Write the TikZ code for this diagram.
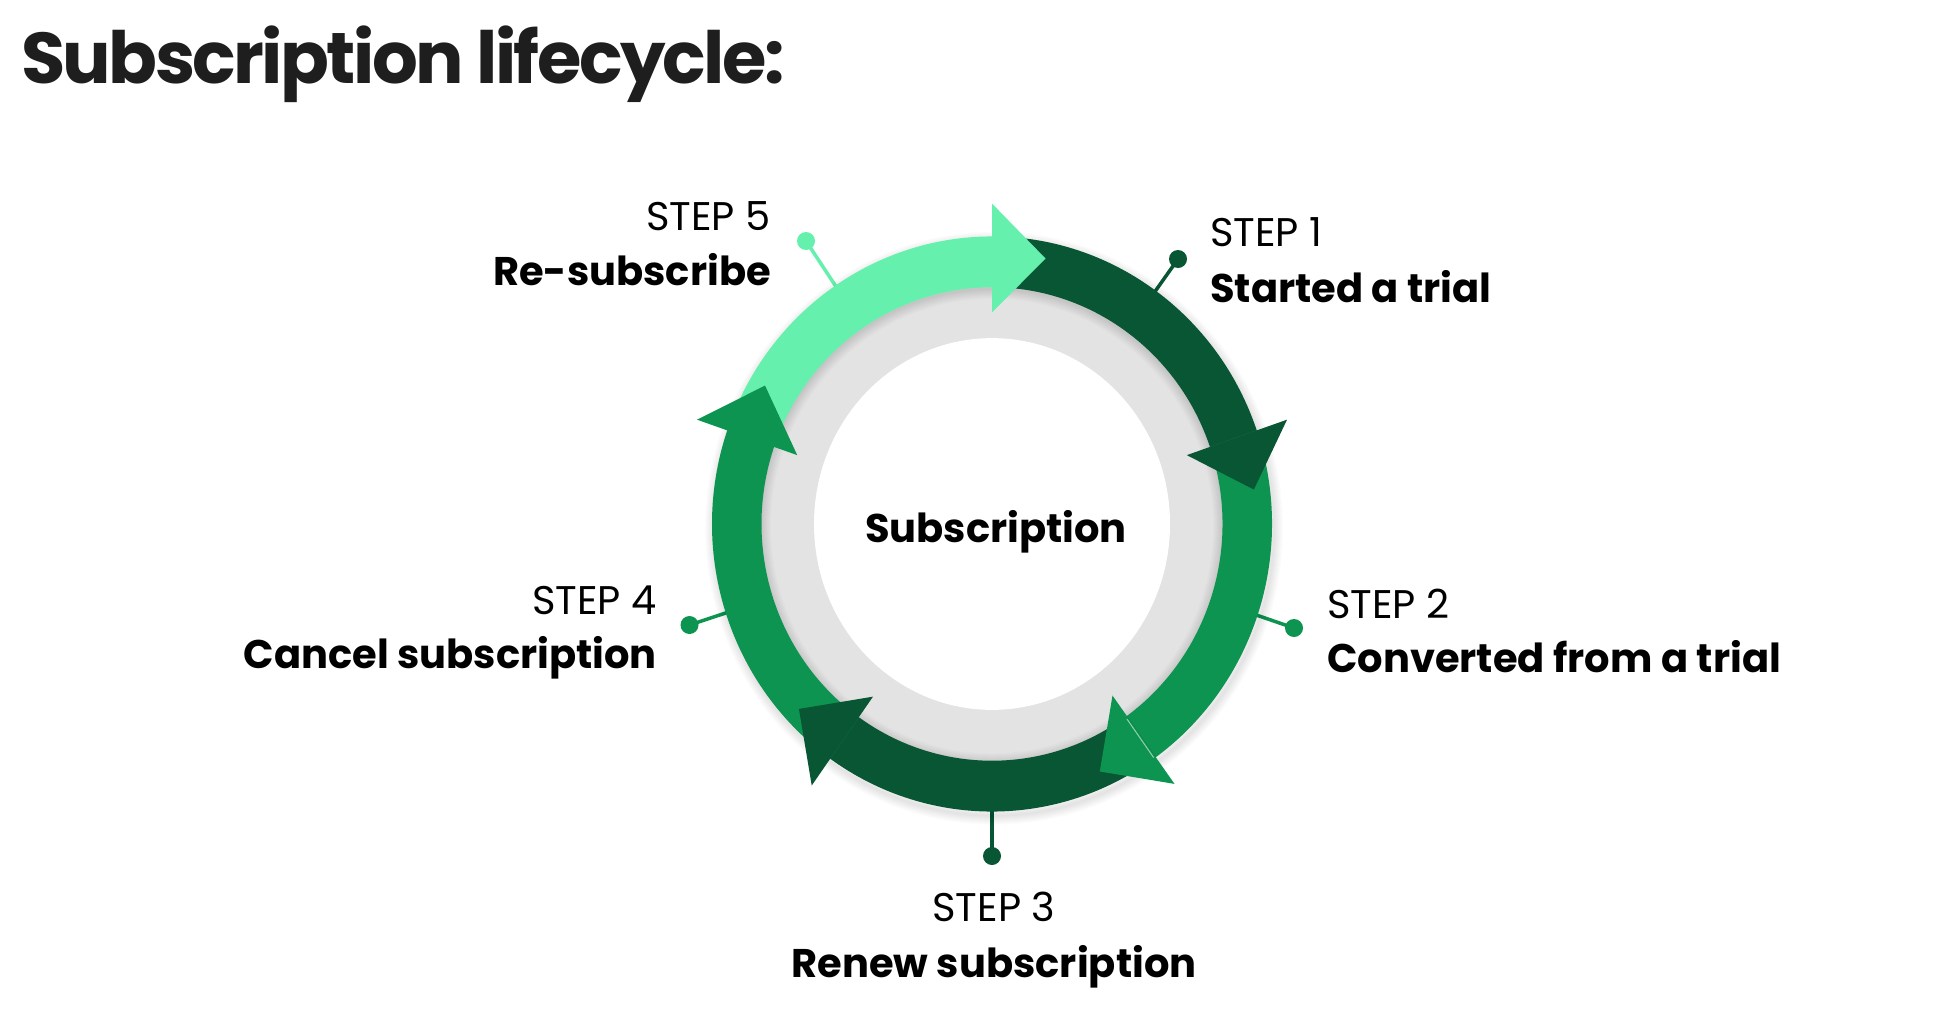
\documentclass[tikz,border=0pt]{standalone}
\usepackage{fontspec}
\setmainfont{Poppins}
\newfontfamily\titlefont{Poppins}[LetterSpace=-3.6]
\usetikzlibrary{calc}
\definecolor{lightg}{HTML}{66F0AE}
\definecolor{medg}{HTML}{0E9451}
\definecolor{darkg}{HTML}{095634}
\definecolor{ringgray}{HTML}{E3E3E3}
\definecolor{titlec}{HTML}{1E1E1E}
\newcommand{\ringband}[3]{\fill[#1] (#2:280) arc[start angle=#2, end angle=#3, radius=280] -- (#3:230.5) arc[start angle=#3, end angle=#2, radius=230.5] -- cycle;}
\newcommand{\ringhead}[2]{\fill[#1] (#2:206) -- (#2:312) -- ({#2-11.7}:264) -- cycle;}
\begin{document}
\begin{tikzpicture}[x=1pt,y=1pt,
  steplbl/.style={font=\fontsize{40}{48}\selectfont, text=black, inner sep=0pt},
  stepttl/.style={font=\fontsize{40}{48}\selectfont\bfseries, text=black, inner sep=0pt},
  dotnode/.style={circle, fill=#1, minimum size=18pt, inner sep=0pt},
  conn/.style={draw=#1, line width=3.5pt},
]
\useasboundingbox (0,0) rectangle (1934,-1014);
\fill[white] (0,0) rectangle (1934,-1014);

\node[anchor=base west, font=\fontsize{72}{80}\selectfont\titlefont\bfseries, text=titlec, inner sep=0pt] (title) at (21,-84) {Subscription lifecycle:};

\coordinate (c) at (992,-524);

% connectors and dots
\coordinate (r1) at ($(c)+(55:250)$);
\coordinate (r2) at ($(c)+(-19:250)$);
\coordinate (r3) at ($(c)+(-90:250)$);
\coordinate (r4) at ($(c)+(198.5:250)$);
\coordinate (r5) at ($(c)+(123.3:250)$);
\node[dotnode=darkg] (d1) at ($(c)+(186,265)$) {};
\node[dotnode=medg] (d2) at ($(c)+(302,-104)$) {};
\node[dotnode=darkg] (d3) at ($(c)+(0,-332)$) {};
\node[dotnode=medg] (d4) at ($(c)+(-302.5,-101)$) {};
\node[dotnode=lightg] (d5) at ($(c)+(-186,283)$) {};
\draw[conn=darkg] (r1) -- (d1.center);
\draw[conn=medg] (r2) -- (d2.center);
\draw[conn=darkg] (r3) -- (d3.center);
\draw[conn=medg] (r4) -- (d4.center);
\draw[conn=lightg] (r5) -- (d5.center);

\begin{scope}[shift={(c)}, yscale=1.027]
  \foreach \w in {2,4,...,18} \draw[black, opacity=0.013, line width=\w pt] (2,-4) circle (280);
  \fill[ringgray] (0,0) circle (231);
  \foreach \w in {2,4,...,20} \draw[black, opacity=0.013, line width=\w pt] (0,-2) circle (231);
  \fill[white] (0,0) ellipse [x radius=178, y radius=181];
  \ringband{lightg}{161}{87}
  \ringband{darkg}{90}{16}
  \ringband{medg}{19}{-57}
  \ringband{darkg}{-54.2}{-128}
  \ringband{medg}{-125.3}{-202}
  \ringhead{lightg}{90}
  \ringhead{darkg}{19}
  \ringhead{medg}{-54.2}
  \ringhead{darkg}{-125.3}
  \ringhead{medg}{161}
  \draw[white!55!medg, line width=1pt] (-54.6:233) -- (-54.6:279);
\end{scope}

\node[stepttl, anchor=base] (ctr) at (996,-542.7) {Subscription};

\node[steplbl, anchor=base east] (s5a) at (771,-230.6) {STEP 5};
\node[stepttl, anchor=base east] (s5b) at (771,-285) {Re-subscribe};
\node[steplbl, anchor=base west] (s1a) at (1210,-246.7) {STEP 1};
\node[stepttl, anchor=base west] (s1b) at (1210,-302) {Started a trial};
\node[steplbl, anchor=base west] (s2a) at (1327,-618) {STEP 2};
\node[stepttl, anchor=base west] (s2b) at (1327,-672) {Converted from a trial};
\node[steplbl, anchor=base] (s3a) at (994,-921) {STEP 3};
\node[stepttl, anchor=base] (s3b) at (994,-977) {Renew subscription};
\node[steplbl, anchor=base east] (s4a) at (657,-614) {STEP 4};
\node[stepttl, anchor=base east] (s4b) at (657,-668.5) {Cancel subscription};
\end{tikzpicture}
\end{document}
